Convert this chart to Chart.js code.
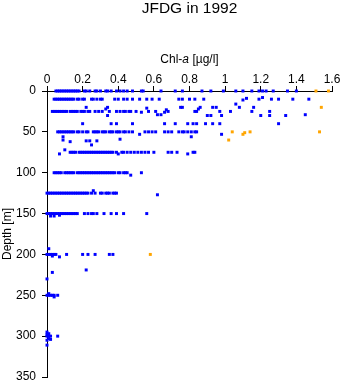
<!DOCTYPE html>
<html>
<head>
<meta charset="utf-8">
<script src="https://cdn.jsdelivr.net/npm/chart.js@4"></script>
<style>
  body { margin: 0; background: #fff; }
  #wrap { width: 343px; height: 384px; }
</style>
</head>
<body>
<div id="wrap"><canvas id="depthChart" width="343" height="384"></canvas></div>
<script>
// sampling depths (m) and the Chl-a values (µg/l) measured at each of them
var depthLevels = [0, 10, 25, 50, 75, 100, 125, 150, 200, 250, 300];
var chlAtLevel = [
  // 0 m
  [0.05, 0.06, 0.07, 0.08, 0.09, 0.10, 0.11, 0.12, 0.13, 0.14, 0.15, 0.16, 0.17, 0.18, 0.21, 0.22, 0.24, 0.27, 0.28, 0.30,
   0.33, 0.34, 0.36, 0.39, 0.41, 0.43, 0.45, 0.48, 0.53, 0.54, 0.64, 0.72, 0.76, 0.87, 0.92, 0.99, 1.06, 1.10, 1.15, 1.19,
   1.21, 1.23, 1.27, 1.35, 1.40],
  // 10 m
  [0.04, 0.05, 0.06, 0.07, 0.08, 0.09, 0.10, 0.11, 0.12, 0.13, 0.14, 0.15, 0.17, 0.18, 0.20, 0.21, 0.25, 0.26, 0.28, 0.30,
   0.31, 0.38, 0.40, 0.43, 0.45, 0.48, 0.52, 0.56, 0.59, 0.63, 0.74, 0.76, 0.80, 0.83, 0.88, 1.19, 1.26, 1.30, 1.38, 1.47],
  // 25 m
  [0.03, 0.04, 0.05, 0.06, 0.07, 0.08, 0.09, 0.10, 0.11, 0.13, 0.14, 0.15, 0.16, 0.17, 0.19, 0.20, 0.21, 0.23, 0.24, 0.27,
   0.29, 0.31, 0.35, 0.39, 0.41, 0.43, 0.44, 0.46, 0.47, 0.50, 0.57, 0.61, 0.68, 0.84, 0.97, 1.03, 1.15, 1.25],
  // 50 m
  [0.06, 0.07, 0.08, 0.09, 0.10, 0.11, 0.12, 0.13, 0.14, 0.15, 0.17, 0.18, 0.20, 0.22, 0.23, 0.26, 0.27, 0.28, 0.29, 0.31,
   0.32, 0.33, 0.35, 0.36, 0.37, 0.39, 0.40, 0.41, 0.43, 0.44, 0.46, 0.48, 0.55, 0.57, 0.59, 0.61, 0.66, 0.68, 0.70, 0.74,
   0.76, 0.77, 0.79, 0.81, 0.83, 0.84],
  // 75 m
  [0.13, 0.14, 0.15, 0.16, 0.18, 0.19, 0.20, 0.21, 0.22, 0.23, 0.24, 0.25, 0.26, 0.27, 0.28, 0.29, 0.30, 0.31, 0.32, 0.33,
   0.34, 0.35, 0.36, 0.37, 0.39, 0.42, 0.43, 0.45, 0.47, 0.49, 0.51, 0.53, 0.55, 0.57, 0.60, 0.68, 0.70, 0.73, 0.82, 0.83],
  // 100 m
  [0.04, 0.05, 0.06, 0.07, 0.08, 0.10, 0.11, 0.12, 0.13, 0.14, 0.15, 0.17, 0.18, 0.19, 0.20, 0.21, 0.22, 0.23, 0.24, 0.25,
   0.26, 0.27, 0.28, 0.29, 0.30, 0.31, 0.32, 0.33, 0.34, 0.35, 0.36, 0.37, 0.38, 0.40, 0.41, 0.43, 0.44, 0.45, 0.53],
  // 125 m
  [0.00, 0.01, 0.02, 0.03, 0.04, 0.05, 0.06, 0.07, 0.08, 0.09, 0.10, 0.11, 0.12, 0.13, 0.14, 0.15, 0.16, 0.17, 0.18, 0.19,
   0.20, 0.21, 0.22, 0.23, 0.25, 0.27, 0.30, 0.31, 0.33, 0.34, 0.35, 0.37, 0.38, 0.39],
  // 150 m
  [0.00, 0.01, 0.02, 0.03, 0.04, 0.05, 0.06, 0.07, 0.08, 0.09, 0.10, 0.11, 0.12, 0.13, 0.14, 0.15, 0.16, 0.17, 0.21, 0.23,
   0.25, 0.26, 0.28, 0.32, 0.36, 0.39, 0.43, 0.56],
  // 200 m
  [0.00, 0.01, 0.02, 0.03, 0.04, 0.05, 0.11, 0.20, 0.23, 0.27, 0.35, 0.37],
  // 250 m
  [0.00, 0.01, 0.02, 0.03, 0.04, 0.06],
  // 300 m
  [0.00, 0.01, 0.02, 0.06]
];

// samples taken between the standard depths: [chl, depth]
var offLevel = [
  [1.10, 11], [1.12, 9], [1.21, 8],
  [0.22, 20], [0.34, 20], [0.33, 22], [0.34, 30], [0.53, 26], [0.56, 21], [0.62, 29], [0.64, 29], [0.66, 26],
  [0.67, 23], [0.75, 20], [0.76, 20], [0.83, 25], [0.85, 22], [0.86, 20], [0.90, 30], [0.92, 30], [0.93, 20],
  [0.95, 20], [0.98, 30], [1.06, 16], [1.08, 20], [1.16, 20], [1.20, 30], [1.25, 30], [1.34, 30], [1.45, 29],
  [0.20, 40], [0.36, 40], [0.39, 40], [0.48, 40], [0.66, 40], [0.72, 40], [0.79, 40], [0.82, 40], [0.84, 40],
  [0.89, 40], [0.93, 40], [0.97, 40], [1.30, 40],
  [0.52, 53], [0.98, 53], [0.81, 56], [0.09, 56], [0.09, 60], [0.13, 62], [0.22, 61], [0.24, 61], [0.25, 66],
  [0.28, 61], [0.41, 59],
  [0.07, 77], [0.10, 72], [0.40, 77], [0.79, 77],
  [0.47, 103], [0.26, 122], [0.62, 127],
  [0.02, 153], [0.04, 153], [0.07, 152],
  [0.01, 193], [0.07, 203], [0.03, 202],
  [0.22, 219], [0.03, 222], [0.00, 230],
  [0.01, 248], [0.04, 252],
  [0.00, 295], [0.01, 297], [0.00, 298], [0.02, 304], [0.01, 303], [0.00, 305], [0.00, 311]
];

// highlighted (orange) samples
var orangeChl   = [1.51, 1.58, 1.54, 1.04, 1.10, 1.11, 1.14, 1.53, 1.02, 0.58];
var orangeDepth = [0,    0,    20,   50,   53,   51,   50,   50,   60,   200];

var xTicks = [0, 0.2, 0.4, 0.6, 0.8, 1, 1.2, 1.4, 1.6];
var yTicks = [0, 50, 100, 150, 200, 250, 300, 350];

var bluePoints = [];
depthLevels.forEach(function (d, i) {
  chlAtLevel[i].forEach(function (c) { bluePoints.push({ x: c, y: d }); });
});
offLevel.forEach(function (p) { bluePoints.push({ x: p[0], y: p[1] }); });

var orangePoints = orangeChl.map(function (c, i) { return { x: c, y: orangeDepth[i] }; });

var FONT = '"Liberation Sans", Arial, sans-serif';

// main title and x-axis title (with italic "a") centred over the plot area
var titlesPlugin = {
  id: 'titles',
  afterDraw: function (chart) {
    var ctx = chart.ctx;
    var area = chart.chartArea;
    var cx = (area.left + area.right) / 2;
    ctx.save();
    ctx.fillStyle = '#000';
    ctx.textBaseline = 'middle';
    ctx.textAlign = 'center';
    ctx.font = '15.5px ' + FONT;
    ctx.fillText('JFDG in 1992', cx, 9);

    var parts = [['Chl-', 'normal'], ['a', 'italic'], [' [µg/l]', 'normal']];
    var total = 0;
    parts.forEach(function (p) {
      ctx.font = p[1] + ' 12px ' + FONT;
      p.push(ctx.measureText(p[0]).width);
      total += p[2];
    });
    var x = cx - total / 2;
    ctx.textAlign = 'left';
    parts.forEach(function (p) {
      ctx.font = p[1] + ' 12px ' + FONT;
      ctx.fillText(p[0], x, 60);
      x += p[2];
    });
    ctx.restore();
  }
};

var ctx = document.getElementById('depthChart').getContext('2d');
var chart = new Chart(ctx, {
  type: 'scatter',
  data: {
    datasets: [
      {
        label: 'Chl-a',
        data: bluePoints,
        backgroundColor: '#0000ff',
        borderWidth: 0,
        pointStyle: 'rect',
        pointRadius: 2.1,
        clip: false
      },
      {
        label: 'Chl-a (flagged)',
        data: orangePoints,
        backgroundColor: '#ffa500',
        borderWidth: 0,
        pointStyle: 'rect',
        pointRadius: 2.1,
        clip: false
      }
    ]
  },
  options: {
    responsive: false,
    animation: false,
    layout: { padding: { top: 1, left: 0, right: 11, bottom: 7 } },
    scales: {
      x: {
        type: 'linear',
        position: 'top',
        min: 0,
        max: 1.6,
        afterFit: function (scale) { scale.height = 90; scale.paddingLeft = 0; scale.paddingRight = 0; },
        afterBuildTicks: function (scale) { scale.ticks = xTicks.map(function (v) { return { value: v }; }); },
        ticks: {
          color: '#000',
          font: { family: FONT, size: 12 },
          padding: -1,
          maxRotation: 0,
          callback: function (v) { return String(Math.round(v * 10) / 10); }
        },
        grid: { drawOnChartArea: false, drawTicks: true, tickLength: 5, color: '#000' },
        border: { display: true, color: '#000', width: 1 }
      },
      y: {
        type: 'linear',
        position: 'left',
        reverse: true,
        min: 0,
        max: 350,
        afterFit: function (scale) { scale.width = 47; scale.paddingTop = 0; scale.paddingBottom = 0; },
        afterBuildTicks: function (scale) { scale.ticks = yTicks.map(function (v) { return { value: v }; }); },
        ticks: {
          color: '#000',
          font: { family: FONT, size: 12 },
          padding: 6
        },
        title: {
          display: true,
          text: 'Depth [m]',
          color: '#000',
          font: { family: FONT, size: 12 },
          padding: 0
        },
        grid: { drawOnChartArea: false, drawTicks: true, tickLength: 5, color: '#000' },
        border: { display: true, color: '#000', width: 1 }
      }
    },
    plugins: {
      legend: { display: false },
      title: { display: false },
      tooltip: { enabled: false }
    }
  },
  plugins: [titlesPlugin]
});
</script>
</body>
</html>
